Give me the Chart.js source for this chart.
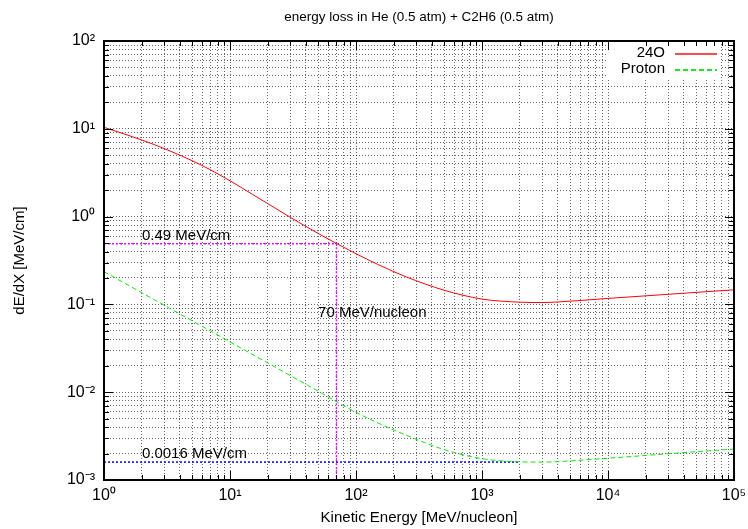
<!DOCTYPE html>
<html>
<head>
<meta charset="utf-8">
<script src="https://cdn.jsdelivr.net/npm/chart.js@4.4.1/dist/chart.umd.min.js"></script>
<style>
  html,body{margin:0;padding:0;background:#fff;}
  #wrap{width:748px;height:529px;position:relative;}
</style>
</head>
<body>
<div id="wrap"><canvas id="c" width="748" height="529"></canvas></div>
<script>
// ---- data ----
const energies = [1, 2, 3, 4, 6, 8, 10, 15, 20, 30, 50, 70, 100, 150, 250, 500, 1000, 2000, 3000, 4000, 10000, 25000, 50000, 100000];
const loss24O  = [10.4, 7.45, 5.96, 5.01, 3.82, 3.07, 2.56, 1.80, 1.40, 0.984, 0.644, 0.494, 0.378, 0.284, 0.206, 0.145, 0.115, 0.106, 0.105, 0.1065, 0.117, 0.128, 0.137, 0.1466];
const lossProton = [0.236, 0.1355, 0.098, 0.0779, 0.0563, 0.0448, 0.0374, 0.0270, 0.0215, 0.0155, 0.0103, 0.0078, 0.0059, 0.00445, 0.00324, 0.00222, 0.00175, 0.00161, 0.0016, 0.00162, 0.00177, 0.00195, 0.0021, 0.00225];
const seriesNames = ['24O', 'Proton'];
const markerEnergy = 70;         // MeV/nucleon
const marker24OLoss = 0.49;      // MeV/cm
const markerProtonLoss = 0.0016; // MeV/cm
const markerProtonEnd = 2000;
const xRange = [1, 100000];
const yRange = [0.001, 100];
const titleText = 'energy loss in He (0.5 atm) + C2H6 (0.5 atm)';
const xTitle = 'Kinetic Energy [MeV/nucleon]';
const yTitle = 'dE/dX [MeV/cm]';
const noteTexts = ['0.49 MeV/cm', '70 MeV/nucleon', '0.0016 MeV/cm'];

const RED = '#ff0000', GREEN = '#00ee00', MAGENTA = '#ff00ff', BLUE = '#0000ff';
const GREEN_DASH = [5, 3];

const FONT = '"Liberation Sans", Arial, Helvetica, sans-serif';
const SUP = {'0':'\u2070','1':'\u00B9','2':'\u00B2','3':'\u00B3','4':'\u2074','5':'\u2075','6':'\u2076','7':'\u2077','8':'\u2078','9':'\u2079','-':'\u207B'};
function isPow10(v){ const l = Math.log10(v); return Math.abs(l - Math.round(l)) < 1e-9; }
function powLabel(v){ const e = String(Math.round(Math.log10(v))); return '10' + e.split('').map(c=>SUP[c]).join(''); }
function allTicks(min, max){
  const out = [];
  for (let k = Math.round(Math.log10(min)); k < Math.round(Math.log10(max)); k++){
    for (let n = 1; n < 10; n++) out.push({value: n * Math.pow(10, k)});
  }
  out.push({value: max});
  return out;
}

const pts = (xs, ys) => xs.map((x, i) => ({x, y: ys[i]}));

const keyEntries = [
  {name: seriesNames[0], color: 'rgba(255,40,40,0.85)', dash: null},
  {name: seriesNames[1], color: 'rgba(0,235,0,0.9)', dash: GREEN_DASH}
];

const framePlugin = {
  id: 'gpFrame',
  beforeDatasetsDraw(chart){
    const {ctx} = chart;
    const a = chart.chartArea;
    ctx.save();
    ctx.fillStyle = '#fff';
    ctx.fillRect(a.right - 126, a.top + 1, 112, 36);
    ctx.restore();
  },
  afterDraw(chart){
    const {ctx, chartArea: a, scales: {x, y}} = chart;
    ctx.save();
    ctx.setLineDash([]);
    ctx.strokeStyle = '#000';
    ctx.lineWidth = 1;
    ctx.beginPath();
    x.ticks.forEach(t => {
      const p = Math.round(x.getPixelForValue(t.value)) + 0.5;
      const L = isPow10(t.value) ? 9 : 5;
      ctx.moveTo(p, a.bottom); ctx.lineTo(p, a.bottom - L);
      ctx.moveTo(p, a.top); ctx.lineTo(p, a.top + L);
    });
    y.ticks.forEach(t => {
      const p = Math.round(y.getPixelForValue(t.value)) + 0.5;
      const L = isPow10(t.value) ? 9 : 5;
      ctx.moveTo(a.left, p); ctx.lineTo(a.left + L, p);
      ctx.moveTo(a.right, p); ctx.lineTo(a.right - L, p);
    });
    ctx.stroke();
    ctx.lineWidth = 2;
    ctx.strokeRect(Math.round(a.left), Math.round(a.top), Math.round(a.right - a.left), Math.round(a.bottom - a.top));
    ctx.restore();

    // key
    keyEntries.forEach((k, i) => {
      const yy = Math.round(a.top + 12 + i * 16);
      ctx.save();
      ctx.font = '15px ' + FONT;
      ctx.textAlign = 'right';
      ctx.textBaseline = 'middle';
      ctx.fillStyle = '#000';
      ctx.fillText(k.name, a.right - 69, yy);
      ctx.fillStyle = k.color;
      const x0 = Math.round(a.right - 59), x1 = Math.round(a.right - 17);
      if (!k.dash) {
        ctx.fillRect(x0, yy, x1 - x0, 2);
      } else {
        for (let xx = x0; xx < x1; xx += k.dash[0] + k.dash[1]) {
          ctx.fillRect(xx, yy, Math.min(k.dash[0], x1 - xx), 2);
        }
      }
      ctx.restore();
    });

    // labels on the plot
    ctx.save();
    ctx.font = '15px ' + FONT;
    ctx.textAlign = 'left';
    ctx.textBaseline = 'middle';
    ctx.fillStyle = '#000';
    const notes = [
      [noteTexts[0], 2, 0.6],
      [noteTexts[1], 50, 0.08],
      [noteTexts[2], 2, 0.002]
    ];
    notes.forEach(([t, ex, ey]) => {
      ctx.fillText(t, x.getPixelForValue(ex), y.getPixelForValue(ey));
    });
    ctx.restore();
  }
};

const gridCommon = {
  color: 'rgba(0,0,0,0.6)',
  lineWidth: 1,
  drawTicks: false,
  tickLength: 0
};

new Chart(document.getElementById('c'), {
  type: 'line',
  data: {
    datasets: [
      { label: seriesNames[0], data: pts(energies, loss24O), borderColor: RED, borderWidth: 1, pointRadius: 0, cubicInterpolationMode: 'monotone', fill: false },
      { label: seriesNames[1], data: pts(energies, lossProton), borderColor: GREEN, borderWidth: 1, borderDash: GREEN_DASH, pointRadius: 0, cubicInterpolationMode: 'monotone', fill: false },
      { label: 'marker70', data: [{x: xRange[0], y: marker24OLoss}, {x: markerEnergy, y: marker24OLoss}, {x: markerEnergy, y: yRange[0]}], borderColor: MAGENTA, borderWidth: 1.5, borderDash: [2, 2], pointRadius: 0, tension: 0, fill: false },
      { label: 'markerP', data: [{x: xRange[0], y: markerProtonLoss}, {x: markerProtonEnd, y: markerProtonLoss}], borderColor: BLUE, borderWidth: 1.5, borderDash: [2, 2], pointRadius: 0, tension: 0, fill: false }
    ]
  },
  options: {
    responsive: false,
    animation: false,
    events: [],
    layout: { padding: { left: 0, right: 14, top: 0, bottom: 0 } },
    plugins: {
      legend: { display: false },
      tooltip: { enabled: false },
      title: {
        display: true, text: titleText, color: '#000', fullSize: false,
        font: { family: FONT, size: 13.5, weight: 'normal' },
        padding: { top: 9, bottom: 15.8 }
      }
    },
    scales: {
      x: {
        type: 'logarithmic', min: xRange[0], max: xRange[1], position: 'bottom',
        afterBuildTicks: s => { s.ticks = allTicks(xRange[0], xRange[1]); },
        afterFit: s => { s.height = 49; s.paddingLeft = 0; s.paddingRight = 0; },
        ticks: { autoSkip: false, maxRotation: 0, minRotation: 0, color: '#000', padding: 6,
          font: { family: FONT, size: 16 },
          callback: v => isPow10(v) ? powLabel(v) : '' },
        grid: gridCommon,
        border: { display: false, dash: [1, 2] },
        title: { display: true, text: xTitle, color: '#000', font: { family: FONT, size: 15 }, padding: { top: 0, bottom: 2 } }
      },
      y: {
        type: 'logarithmic', min: yRange[0], max: yRange[1], position: 'left',
        afterBuildTicks: s => { s.ticks = allTicks(yRange[0], yRange[1]); },
        afterFit: s => { s.width = 104; s.paddingTop = 0; s.paddingBottom = 0; },
        ticks: { autoSkip: false, color: '#000', padding: 9,
          font: { family: FONT, size: 16 },
          callback: v => isPow10(v) ? powLabel(v) : '' },
        grid: gridCommon,
        border: { display: false, dash: [1, 2] },
        title: { display: true, text: yTitle, color: '#000', font: { family: FONT, size: 15 }, padding: { top: 11, bottom: 0 } }
      }
    }
  },
  plugins: [framePlugin]
});
</script>
</body>
</html>
